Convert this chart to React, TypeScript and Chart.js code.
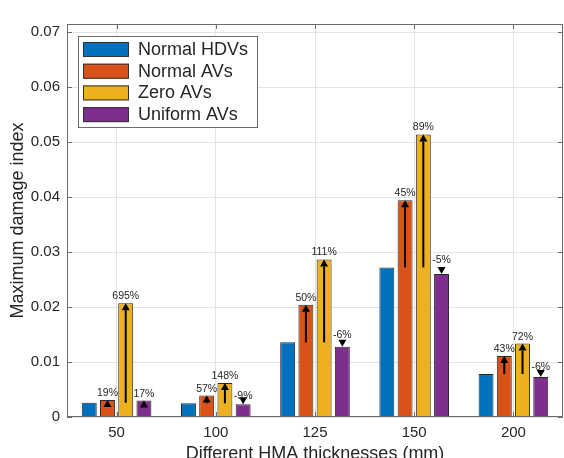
import React, { useEffect, useRef } from "react";
import { Chart, registerables } from "chart.js";

Chart.register(...registerables);

const categories = ["50", "100", "125", "150", "200"];
const normalHDVs = [0.0026, 0.00248, 0.01358, 0.02721, 0.00782];
const normalAVs = [0.0031, 0.0039, 0.0204, 0.03945, 0.0111];
const zeroAVs = [0.0207, 0.0062, 0.02867, 0.0514, 0.01335];
const uniformAVs = [0.003, 0.0023, 0.01279, 0.026, 0.00727];
const normalAVsChange = ["19%", "57%", "50%", "45%", "43%"];
const zeroAVsChange = ["695%", "148%", "111%", "89%", "72%"];
const uniformAVsChange = ["17%", "-9%", "-6%", "-5%", "-6%"];
const yTicks = [0, 0.01, 0.02, 0.03, 0.04, 0.05, 0.06, 0.07];
const seriesNames = ["Normal HDVs", "Normal AVs", "Zero AVs", "Uniform AVs"];
const seriesColors = ["#0072BD", "#D95319", "#EDB120", "#7E2F8E"];
const xTitle = "Different HMA thicknesses (mm)";
const yTitle = "Maximum damage index";

const FONT = "'Liberation Sans', Arial, Helvetica, sans-serif";
const AXIS = "#6a6a6a";
const TXT = "#262626";

const decorPlugin = {
  id: "decor",
  afterDatasetsDraw(chart: any) {
    const ctx = chart.ctx;
    const y = chart.scales.y;
    const changes = [null, normalAVsChange, zeroAVsChange, uniformAVsChange];
    ctx.save();
    for (let d = 1; d <= 3; d++) {
      const meta = chart.getDatasetMeta(d);
      meta.data.forEach((bar: any, i: number) => {
        const x = bar.x;
        const yB = bar.y;
        const yH = y.getPixelForValue(normalHDVs[i]);
        const up = yB < yH;
        const headLen = 7;
        const headHalf = 4;
        ctx.strokeStyle = "#000";
        ctx.fillStyle = "#000";
        ctx.lineWidth = 2;
        const baseY = up ? yB + headLen : yB - headLen;
        if (Math.abs(yH - yB) > headLen) {
          ctx.beginPath();
          ctx.moveTo(x, yH);
          ctx.lineTo(x, baseY);
          ctx.stroke();
        }
        ctx.beginPath();
        ctx.moveTo(x, yB);
        ctx.lineTo(x - headHalf, baseY);
        ctx.lineTo(x + headHalf, baseY);
        ctx.closePath();
        ctx.fill();
        const label = (changes[d] as string[])[i];
        ctx.font = `10.5px ${FONT}`;
        ctx.fillStyle = TXT;
        ctx.textAlign = "center";
        ctx.textBaseline = "alphabetic";
        ctx.fillText(label, x, Math.min(yB, yH) - 4);
      });
    }
    ctx.restore();
  },
  afterDraw(chart: any) {
    const ctx = chart.ctx;
    const { left, right, top, bottom } = chart.chartArea;
    const xs = chart.scales.x;
    const ys = chart.scales.y;
    ctx.save();
    ctx.strokeStyle = AXIS;
    ctx.lineWidth = 1;
    ctx.strokeRect(left + 0.5, top + 0.5, right - left - 1, bottom - top - 1);
    ctx.beginPath();
    ys.ticks.forEach((t: any) => {
      const py = Math.round(ys.getPixelForValue(t.value)) + 0.5;
      ctx.moveTo(left, py);
      ctx.lineTo(left + 5, py);
      ctx.moveTo(right, py);
      ctx.lineTo(right - 5, py);
    });
    categories.forEach((_, i) => {
      const px = Math.round(xs.getPixelForValue(i)) + 0.5;
      ctx.moveTo(px, bottom);
      ctx.lineTo(px, bottom - 5);
      ctx.moveTo(px, top);
      ctx.lineTo(px, top + 5);
    });
    ctx.stroke();

    // legend
    const lx = left + 11;
    const ly = top + 12;
    const lw = 179;
    const lh = 91;
    ctx.fillStyle = "#fff";
    ctx.fillRect(lx, ly, lw, lh);
    ctx.strokeStyle = AXIS;
    ctx.strokeRect(lx + 0.5, ly + 0.5, lw, lh);
    ctx.font = `18px ${FONT}`;
    ctx.textAlign = "left";
    ctx.textBaseline = "middle";
    seriesNames.forEach((name, k) => {
      const ry = ly + 6 + k * 21.7;
      ctx.fillStyle = seriesColors[k];
      ctx.fillRect(lx + 5, ry, 46, 15);
      ctx.strokeStyle = "#333";
      ctx.strokeRect(lx + 5.5, ry + 0.5, 45, 14);
      ctx.fillStyle = TXT;
      ctx.fillText(name, lx + 60, ry + 8);
    });
    ctx.restore();
  },
};

export default function App() {
  const ref = useRef<HTMLCanvasElement>(null);
  useEffect(() => {
    const seriesData = [normalHDVs, normalAVs, zeroAVs, uniformAVs];
    const chart = new Chart(ref.current as HTMLCanvasElement, {
      type: "bar",
      data: {
        labels: categories,
        datasets: seriesNames.map((name, k) => ({
          label: name,
          data: seriesData[k],
          backgroundColor: seriesColors[k],
          borderColor: "#2b2b2b",
          borderWidth: 1,
          categoryPercentage: 0.735,
          barPercentage: 0.82,
        })),
      },
      options: {
        animation: false,
        responsive: false,
        devicePixelRatio: 1,
        layout: { padding: { left: 0, right: 1, top: 24, bottom: 0 } },
        plugins: { legend: { display: false }, tooltip: { enabled: false } },
        scales: {
          x: {
            grid: { color: "#e4e4e4", offset: false, drawTicks: false },
            border: { display: false },
            ticks: { color: TXT, font: { family: FONT, size: 15 }, padding: 7 },
            title: {
              display: true,
              text: xTitle,
              color: TXT,
              font: { family: FONT, size: 18 },
              padding: { top: 0, bottom: -7 },
            },
            afterFit(scale: any) {
              scale.height = 41;
            },
          },
          y: {
            min: 0,
            max: 0.0715,
            grid: { color: "#e4e4e4", drawTicks: false },
            border: { display: false },
            ticks: {
              color: TXT,
              font: { family: FONT, size: 15 },
              padding: 7,
              callback: (v: any) => (Number(v) === 0 ? "0" : Number(v).toFixed(2)),
            },
            afterBuildTicks(scale: any) {
              scale.ticks = yTicks.map((v) => ({ value: v }));
            },
            title: {
              display: true,
              text: yTitle,
              color: TXT,
              font: { family: FONT, size: 18 },
              padding: { top: 7, bottom: 0 },
            },
            afterFit(scale: any) {
              scale.width = 67;
            },
          },
        },
      },
      plugins: [decorPlugin],
    });
    return () => chart.destroy();
  }, []);
  return (
    <div style={{ position: "absolute", left: 0, top: 0, width: 564, height: 458, background: "#fff" }}>
      <canvas ref={ref} width={564} height={458} />
    </div>
  );
}
